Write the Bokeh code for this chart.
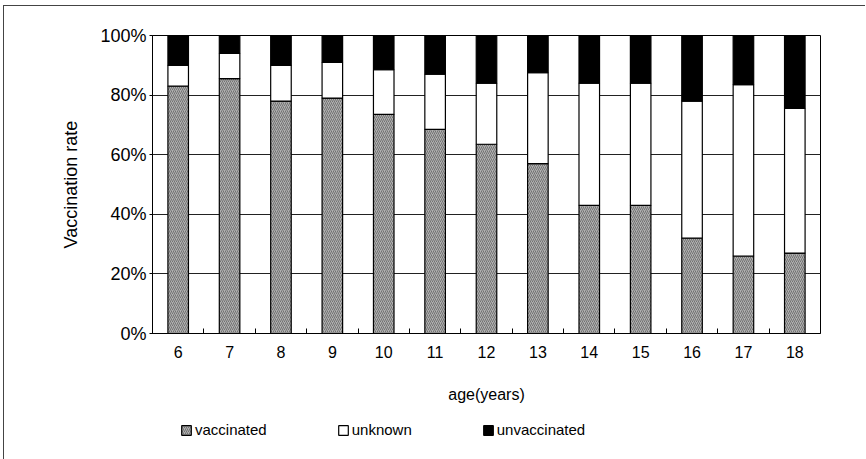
from bokeh.plotting import figure
from bokeh.layouts import column
from bokeh.models import FixedTicker, PrintfTickFormatter, Legend, LegendItem, ColumnDataSource
from bokeh.embed import file_html
from bokeh.resources import INLINE

ages = [6, 7, 8, 9, 10, 11, 12, 13, 14, 15, 16, 17, 18]
vaccinated = [83, 85.5, 78, 79, 73.5, 68.5, 63.5, 57, 43, 43, 32, 26, 27]
unknown = [7, 8.5, 12, 12, 15, 18.5, 20.5, 30.5, 41, 41, 46, 57.5, 48.5]
unvaccinated = [100 - v - u for v, u in zip(vaccinated, unknown)]
y_ticks = [0, 20, 40, 60, 80, 100]
series = ["vaccinated", "unknown", "unvaccinated"]
fills = ["#b0b0b0", "white", "black"]
hatches = ["/", " ", " "]

src = ColumnDataSource(dict(age=ages, vaccinated=vaccinated, unknown=unknown,
                            unvaccinated=unvaccinated))

FONT = "Liberation Sans"

p = figure(width=862, height=400, output_backend="svg", toolbar_location=None,
           x_range=(5.5, 18.5), y_range=(0, 100),
           min_border_left=148, min_border_right=46, min_border_top=29,
           min_border_bottom=73)
p.margin = (5, 0, 0, 3)
p.styles = {"border-left": "1px solid #444", "border-top": "1px solid #444"}
p.outline_line_color = "black"
p.outline_line_width = 1
p.background_fill_color = "white"
p.border_fill_color = "white"

bar_style = dict(fill_color=fills, line_color="black", line_width=1.2,
                 hatch_pattern=hatches, hatch_color="#727272",
                 hatch_scale=4, hatch_weight=1)
r = p.vbar_stack(series, x="age", width=0.4, source=src, **bar_style)

# axes
p.xgrid.grid_line_color = None
p.ygrid.grid_line_color = "#222"
p.ygrid.grid_line_width = 1
p.ygrid.ticker = FixedTicker(ticks=y_ticks)

xa = p.xaxis[0]
xa.ticker = FixedTicker(ticks=ages, minor_ticks=[a + 0.5 for a in ages[:-1]])
xa.major_tick_in = 0
xa.major_tick_out = 0
xa.minor_tick_in = 5
xa.minor_tick_out = 0
xa.minor_tick_line_color = "black"
xa.axis_line_color = "black"
xa.major_label_text_font = FONT
xa.major_label_text_font_size = "16px"
xa.major_label_text_color = "black"
xa.major_label_standoff = 12
xa.axis_label = "age(years)"
xa.axis_label_text_font = FONT
xa.axis_label_text_font_size = "16px"
xa.axis_label_text_font_style = "normal"
xa.axis_label_text_color = "black"
xa.axis_label_standoff = 25

ya = p.yaxis[0]
ya.ticker = FixedTicker(ticks=y_ticks)
ya.formatter = PrintfTickFormatter(format="%d%%")
ya.major_tick_in = 0
ya.major_tick_out = 3
ya.minor_tick_line_color = None
ya.axis_line_color = "black"
ya.major_label_text_font = FONT
ya.major_label_text_font_size = "18px"
ya.major_label_text_color = "black"
ya.major_label_standoff = 3
ya.axis_label = "Vaccination rate"
ya.axis_label_text_font = FONT
ya.axis_label_text_font_size = "18px"
ya.axis_label_text_font_style = "normal"
ya.axis_label_text_color = "black"
ya.axis_label_standoff = 16

# legend strip (its bars are hidden; only the legend shows)
pl = figure(width=862, height=54, output_backend="svg", toolbar_location=None,
            min_border=0, x_range=(5.5, 18.5), y_range=(0, 100),
            x_axis_location=None, y_axis_location=None)
pl.margin = (0, 0, 0, 3)
pl.styles = {"border-left": "1px solid #444"}
pl.outline_line_color = None
pl.grid.grid_line_color = None
rl = pl.vbar_stack(series, x="age", width=0.4, source=src, **bar_style)
for rr in rl:
    rr.visible = False

legend = Legend(items=[LegendItem(label=s, renderers=[rr]) for s, rr in zip(series, rl)],
                orientation="horizontal", location=(28, 21),
                label_text_font=FONT, label_text_font_size="15px",
                label_text_color="black", glyph_width=12, glyph_height=12,
                label_standoff=3, spacing=70, padding=0, margin=0,
                inactive_fill_alpha=0,
                border_line_color=None, background_fill_alpha=0)
pl.add_layout(legend, "center")

layout = column(p, pl, spacing=0)
open("out.html", "w").write(file_html(layout, INLINE))
